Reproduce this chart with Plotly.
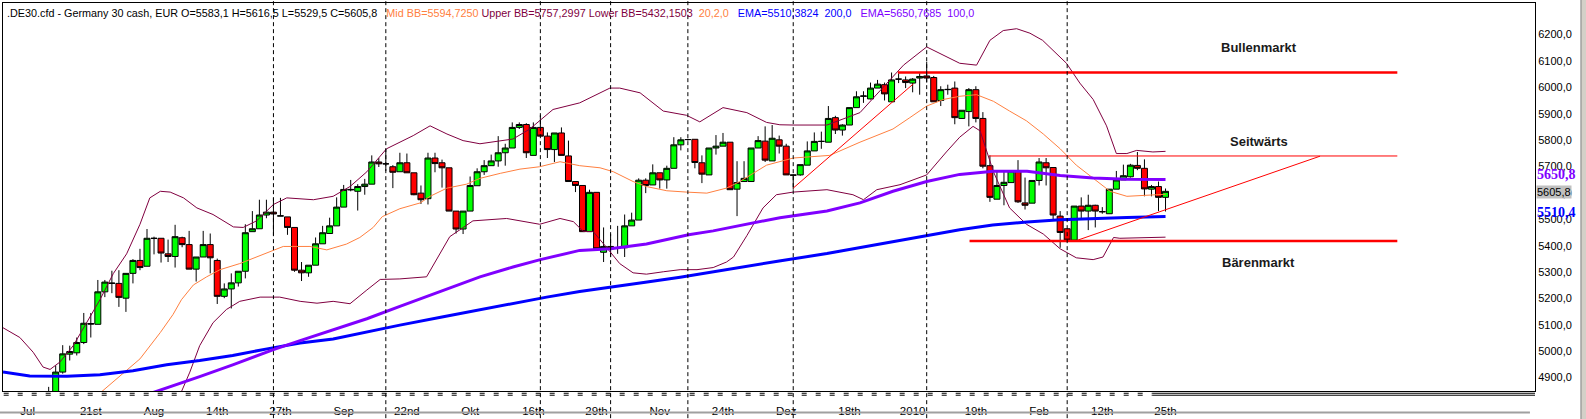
import plotly.graph_objects as go

# ---------------- data (candle index 0 = first visible candle, 158 = 25 Feb 2010) ----------------
idx = list(range(-1, 159))

opens = [4790,
 4800, 4921, 4989, 4994, 5033, 5105, 5102, 5225, 5257, 5257,
 5201, 5295, 5344, 5322, 5427, 5428, 5369, 5359, 5430, 5404,
 5311, 5357, 5404, 5344, 5208, 5236, 5259, 5303, 5453, 5464,
 5516, 5527, 5512, 5509, 5469, 5307, 5297, 5326, 5407, 5446,
 5475, 5546, 5611, 5606, 5624, 5633, 5717, 5710, 5699, 5680,
 5714, 5676, 5599, 5578, 5732, 5714, 5695, 5531, 5463, 5531,
 5627, 5680, 5703, 5721, 5752, 5770, 5848, 5859, 5742, 5848,
 5815, 5764, 5827, 5740, 5643, 5628, 5453, 5602, 5375, 5397,
 5392, 5392, 5475, 5497, 5648, 5630, 5676, 5649, 5693, 5782,
 5802, 5803, 5714, 5668, 5770, 5777, 5792, 5614, 5643, 5643,
 5770, 5796, 5721, 5801, 5777, 5668, 5668, 5705, 5759, 5795,
 5792, 5885, 5838, 5857, 5923, 5966, 5956, 5997, 6010, 5945,
 6031, 6028, 6016, 6035, 6043, 6037, 5950, 5991, 5997, 5882,
 5908, 5991, 5882, 5703, 5576, 5628, 5639, 5683, 5562, 5561,
 5647, 5714, 5696, 5512, 5464, 5421, 5550, 5531, 5553, 5528,
 5521, 5614, 5649, 5661, 5704, 5693, 5614, 5624, 5583.1]

highs = [4865,
 4946, 5023, 5021, 5052, 5145, 5145, 5270, 5270, 5305, 5307,
 5295, 5349, 5388, 5463, 5434, 5428, 5423, 5479, 5434, 5456,
 5357, 5456, 5446, 5351, 5257, 5295, 5303, 5481, 5531, 5574,
 5574, 5581, 5581, 5509, 5469, 5338, 5326, 5431, 5475, 5506,
 5583, 5630, 5649, 5633, 5653, 5742, 5732, 5767, 5705, 5752,
 5749, 5676, 5628, 5752, 5752, 5726, 5695, 5531, 5531, 5662,
 5693, 5724, 5745, 5815, 5786, 5867, 5867, 5864, 5867, 5894,
 5829, 5827, 5848, 5798, 5643, 5628, 5612, 5602, 5469, 5444,
 5475, 5518, 5525, 5655, 5655, 5708, 5676, 5703, 5811, 5811,
 5805, 5803, 5742, 5770, 5819, 5827, 5792, 5720, 5720, 5770,
 5815, 5852, 5857, 5817, 5786, 5670, 5707, 5795, 5829, 5832,
 5929, 5892, 5860, 5923, 5985, 5985, 6018, 6028, 6018, 6056,
 6053, 6041, 6035, 6053, 6097, 6043, 6004, 6010, 6022, 5913,
 5997, 6004, 5906, 5742, 5683, 5686, 5683, 5724, 5658, 5647,
 5732, 5732, 5696, 5531, 5464, 5550, 5583, 5593, 5555, 5546,
 5614, 5683, 5707, 5710, 5755, 5727, 5630, 5643, 5616.5]

lows = [4760,
 4790, 4915, 4965, 4984, 5027, 5052, 5102, 5205, 5220, 5168,
 5149, 5257, 5307, 5322, 5367, 5336, 5338, 5317, 5394, 5311,
 5264, 5357, 5295, 5179, 5201, 5162, 5245, 5276, 5453, 5464,
 5504, 5438, 5512, 5441, 5301, 5266, 5282, 5326, 5407, 5446,
 5475, 5546, 5606, 5533, 5593, 5633, 5698, 5683, 5618, 5680,
 5676, 5591, 5558, 5556, 5678, 5620, 5531, 5446, 5444, 5531,
 5627, 5668, 5703, 5699, 5703, 5770, 5842, 5732, 5742, 5815,
 5732, 5717, 5742, 5643, 5603, 5453, 5453, 5382, 5338, 5357,
 5369, 5357, 5475, 5497, 5599, 5630, 5616, 5616, 5693, 5761,
 5798, 5693, 5637, 5668, 5745, 5777, 5612, 5512, 5643, 5643,
 5770, 5717, 5721, 5749, 5668, 5612, 5665, 5705, 5759, 5767,
 5792, 5823, 5817, 5857, 5923, 5941, 5954, 5997, 5950, 5945,
 6016, 5997, 5981, 5972, 6018, 5945, 5929, 5972, 5860, 5880,
 5852, 5867, 5693, 5566, 5576, 5553, 5639, 5562, 5537, 5561,
 5628, 5628, 5500, 5392, 5419, 5419, 5500, 5459, 5469, 5521,
 5521, 5614, 5649, 5658, 5686, 5587, 5587, 5531, 5529.5]

closes = [4835,
 4921, 4990, 4999, 5033, 5106, 5103, 5225, 5262, 5258, 5204,
 5295, 5344, 5317, 5428, 5428, 5372, 5359, 5434, 5404, 5311,
 5357, 5404, 5354, 5208, 5236, 5259, 5303, 5449, 5464, 5516,
 5527, 5520, 5513, 5469, 5307, 5297, 5326, 5407, 5449, 5475,
 5546, 5613, 5613, 5624, 5633, 5717, 5710, 5710, 5678, 5714,
 5676, 5593, 5574, 5732, 5711, 5695, 5531, 5463, 5531, 5628,
 5680, 5703, 5721, 5752, 5770, 5848, 5859, 5752, 5848, 5815,
 5764, 5827, 5742, 5643, 5628, 5453, 5602, 5388, 5397, 5388,
 5392, 5475, 5497, 5648, 5628, 5676, 5649, 5693, 5782, 5801,
 5802, 5715, 5671, 5770, 5777, 5792, 5612, 5639, 5655, 5770,
 5798, 5724, 5807, 5777, 5668, 5667, 5707, 5759, 5795, 5795,
 5882, 5838, 5857, 5923, 5964, 5967, 5997, 6012, 5975, 6028,
 6031, 6018, 6031, 6041, 6035, 5945, 5991, 5992, 5885, 5913,
 5991, 5882, 5701, 5583, 5628, 5640, 5683, 5566, 5553, 5647,
 5717, 5695, 5516, 5450, 5421, 5550, 5531, 5553, 5531, 5529,
 5614, 5649, 5665, 5705, 5693, 5615, 5624, 5583, 5605.8]

# indicator lines (x = candle index, y = price)
ema200_k = [-7.5, -3.7, 1.6, 6.3, 11.0, 15.8, 20.5, 25.2, 30.1, 34.8, 39.5, 44.3, 49.0, 55.0, 62.3,
            69.9, 74.6, 79.3, 84.2, 88.9, 93.6, 98.4, 103.0, 109.8, 114.5, 119.2, 124.0, 128.7,
            133.4, 138.3, 143.0, 147.7, 152.5, 158.0]
ema200_v = [4921, 4906, 4905, 4911, 4926, 4949, 4965, 4984, 5009, 5031, 5046, 5073, 5099, 5130, 5168,
            5205, 5226, 5245, 5262, 5280, 5301, 5324, 5342, 5370, 5392, 5415, 5438, 5460,
            5478, 5490, 5498, 5503, 5507, 5510.4]

ema100_k = [8.0, 14.4, 20.5, 25.3, 31.0, 34.8, 39.5, 44.3, 49.0, 55.7, 60.4, 65.1, 69.0, 74.6, 79.0,
            84.1, 90.1, 93.6, 98.4, 103.1, 109.8, 114.5, 119.2, 124.0, 128.7, 133.5, 138.3, 143.0,
            147.7, 152.5, 158.0]
ema100_v = [4790, 4847, 4904, 4949, 5006, 5040, 5081, 5123, 5170, 5236, 5282, 5319, 5347, 5382, 5388,
            5406, 5441, 5456, 5481, 5506, 5531, 5562, 5606, 5643, 5670, 5682, 5682, 5666,
            5656, 5652, 5650.8]

midbb_k = [3.0, 6.6, 12.0, 14.9, 16.7, 17.9, 19.6, 21.5, 23.4, 26.2, 29.1, 31.0, 32.4, 36.2, 38.6,
           41.4, 43.3, 45.2, 46.5, 49.0, 51.9, 53.3, 55.7, 58.5, 60.4, 63.3, 66.1, 68.9, 71.8, 74.6,
           77.5, 79.4, 82.2, 84.1, 87.0, 89.8, 92.7, 95.5, 97.4, 99.3, 101.2, 105.0, 110.2, 114.5,
           119.2, 121.6, 124.0, 126.4, 128.7, 131.1, 133.5, 135.8, 138.2, 140.6, 143.0, 145.3,
           147.7, 150.1, 152.5, 154.8, 158.0]
midbb_v = [4766, 4847, 4971, 5071, 5139, 5195, 5251, 5282, 5309, 5332, 5363, 5384, 5397, 5397, 5384,
           5406, 5431, 5469, 5510, 5540, 5562, 5587, 5618, 5633, 5655, 5674, 5690, 5699, 5718, 5703,
           5695, 5680, 5643, 5624, 5608, 5603, 5599, 5618, 5643, 5674, 5705, 5732, 5742, 5792,
           5842, 5885, 5929, 5954, 5966, 5972, 5947, 5910, 5873, 5823, 5767, 5705,
           5655, 5606, 5587, 5591, 5594.7]

upbb_k = [-7.5, -5.1, -3.2, -1.8, -0.8, 0.6, 2.5, 4.4, 6.3, 8.2, 10.1, 12.0, 13.4, 14.9, 16.3, 18.2,
          20.1, 22.4, 25.3, 26.7, 28.6, 31.0, 32.9, 36.7, 39.5, 41.9, 44.3, 47.1, 49.0, 50.9, 53.3,
          55.7, 58.0, 60.4, 65.1, 67.5, 70.8, 74.6, 78.9, 80.3, 83.2, 86.5, 89.8, 91.7, 95.0, 98.4,
          101.2, 103.1, 105.0, 109.8, 114.5, 118.3, 120.7, 124.0, 125.9, 128.7, 131.1, 133.0, 134.9,
          136.8, 138.7, 140.5, 143.9, 145.8, 147.7, 149.6, 151.0, 152.5, 153.9, 156.2, 158.0]
upbb_v = [5089, 5052, 4996, 4940, 4931, 4959, 5021, 5108, 5195, 5294, 5369, 5481, 5581, 5606, 5603, 5581,
          5543, 5518, 5471, 5469, 5494, 5556, 5581, 5574, 5587, 5624, 5680, 5767, 5792, 5817, 5854,
          5823, 5798, 5786, 5804, 5842, 5916, 5941, 5997, 5997, 5979, 5910, 5894, 5869, 5923, 5904,
          5867, 5858, 5857, 5857, 5904, 6016, 6084, 6153, 6128, 6091, 6084, 6178, 6215,
          6222, 6205, 6178, 6091, 6016, 5954, 5854, 5749, 5749, 5761, 5755, 5757.3]

lowbb_k = [16.5, 17.9, 19.1, 20.5, 22.4, 24.3, 26.2, 29.1, 31.9, 34.8, 37.2, 39.5, 41.9, 44.3, 46.2,
           49.0, 52.8, 56.1, 59.4, 64.2, 68.9, 71.8, 73.7, 75.1, 76.5, 78.4, 80.3, 82.2, 84.1, 86.5,
           88.9, 91.3, 93.6, 95.5, 96.5, 98.4, 100.7, 102.6, 105.0, 109.8, 113.5, 115.0, 116.9,
           120.2, 124.0, 126.8, 128.7, 130.6, 131.6, 133.5, 135.8, 138.2, 140.6, 143.0, 145.3,
           147.7, 149.1, 150.6, 151.5, 158.0]
lowbb_v = [4760, 4847, 4921, 5021, 5108, 5158, 5189, 5205, 5205, 5189, 5182, 5189, 5180, 5232, 5272,
           5274, 5282, 5434, 5494, 5503, 5481, 5503, 5491, 5454, 5454, 5394, 5332, 5297, 5292, 5301,
           5309, 5309, 5317, 5338, 5357, 5438, 5543, 5593, 5603, 5612, 5593, 5574, 5612,
           5631, 5668, 5755, 5811, 5852, 5835, 5680, 5543, 5481, 5444, 5388, 5354,
           5347, 5357, 5431, 5428, 5432.2]

# hand-drawn lines
trend_up_k = [105.0, 122.1]
trend_up_v = [5618, 6013]
bull_k = [119.9, 191.0]
bull_v = [6055.7, 6055.7]
side_k = [132.9, 191.0]
side_v = [5739.8, 5739.8]
bear_k = [130.1, 191.0]
bear_v = [5417.6, 5417.6]
rise_k = [145.3, 180.0]
rise_v = [5419, 5739]

vlines_k = [31, 47, 69, 79, 90, 105, 124, 144]

zone_labels = ['Bullenmarkt', 'Seitwärts', 'Bärenmarkt']
zone_k = [171.3, 171.3, 171.3]
zone_v = [6152, 5794, 5335]

tick_k = [-4, 5, 14, 23, 32, 41, 50, 59, 68, 77, 86, 95, 104, 113, 122, 131, 140, 149, 158]
tick_labels = ['Jul', '21st', 'Aug', '14th', '27th', 'Sep', '22nd', 'Okt', '16th', '29th', 'Nov',
               '24th', 'Dez', '18th', '2010', '19th', 'Feb', '12th', '25th']

price_ticks = [4900, 5000, 5100, 5200, 5300, 5400, 5500, 5600, 5700, 5800, 5900, 6000, 6100, 6200]
price_labels = ['4900,0', '5000,0', '5100,0', '5200,0', '5300,0', '5400,0', '5500,0', '5600,0',
                '5700,0', '5800,0', '5900,0', '6000,0', '6100,0', '6200,0']

last_marks_v = [5650.8, 5605.8, 5510.4]
last_marks_t = ['5650,8', '5605,8', '5510,4']

# ---------------- colours ----------------
C_ORANGE = '#ff8040'
C_MAROON = '#800040'
C_BLUE = '#0000ff'
C_PURPLE = '#8000ff'
C_RED = '#ff0000'
NB = '\u00a0'

fig = go.Figure()

def line(xs, ys, color, width):
    fig.add_trace(go.Scatter(x=xs, y=ys, mode='lines', line=dict(color=color, width=width),
                             hoverinfo='skip', showlegend=False))

line(upbb_k, upbb_v, C_MAROON, 1)
line(lowbb_k, lowbb_v, C_MAROON, 1)
line(midbb_k, midbb_v, C_ORANGE, 1)
line(ema200_k, ema200_v, C_BLUE, 3)
line(ema100_k, ema100_v, C_PURPLE, 3)

fig.add_trace(go.Candlestick(
    x=idx, open=opens, high=highs, low=lows, close=closes,
    increasing=dict(fillcolor='#00ff00', line=dict(color='black', width=1)),
    decreasing=dict(fillcolor='#ff0000', line=dict(color='black', width=1)),
    whiskerwidth=0, showlegend=False, hoverinfo='skip'))

line(trend_up_k, trend_up_v, C_RED, 1)
line(bull_k, bull_v, C_RED, 2.5)
line(side_k, side_v, C_RED, 1)
line(bear_k, bear_v, C_RED, 2.5)
line(rise_k, rise_v, C_RED, 1)

shapes = []
for k in vlines_k:
    shapes.append(dict(type='line', xref='x', yref='paper', x0=k, x1=k, y0=-0.07, y1=1.01,
                       line=dict(color='black', width=1, dash='4px,3px')))
# double line under the time axis: dashed over the data, solid afterwards
for yy in [-0.0058, -0.0109]:
    shapes.append(dict(type='line', xref='x', yref='paper', x0=-7.4, x1=156.1, y0=yy, y1=yy,
                       line=dict(color='black', width=1, dash='5px,9px')))
    shapes.append(dict(type='line', xref='x', yref='paper', x0=156.1, x1=210.6, y0=yy, y1=yy,
                       line=dict(color='black', width=1)))
# window frame bits
shapes.append(dict(type='line', xref='paper', yref='paper', x0=-0.002, x1=0.9967, y0=-0.0551, y1=-0.0551,
                   line=dict(color='#a0a0a0', width=2)))
shapes.append(dict(type='rect', xref='paper', yref='paper', x0=1.030, x1=1.06, y0=-0.1, y1=1.02,
                   fillcolor='#d4d0c8', line=dict(color='#808080', width=1)))

header = ('.DE30.cfd - Germany 30 cash, EUR O=5583,1 H=5616,5 L=5529,5 C=5605,8' + NB * 3 +
          f'<span style="color:{C_ORANGE}">Mid BB=5594,7250</span> ' +
          f'<span style="color:{C_MAROON}">Upper BB=5757,2997 Lower BB=5432,1503</span>' + NB * 2 +
          f'<span style="color:{C_ORANGE}">20,2,0</span>' + NB * 3 +
          f'<span style="color:{C_BLUE}">EMA=5510,3824{NB*2}200,0</span>' + NB * 3 +
          f'<span style="color:{C_PURPLE}">EMA=5650,7685{NB*2}100,0</span>')

annotations = [dict(xref='paper', yref='paper', x=0, y=1, xanchor='left', yanchor='top',
                    xshift=2, yshift=-2, text=header, showarrow=False,
                    font=dict(family='Liberation Sans, Arial, sans-serif', size=10.8, color='black'))]

for t, k, v in zip(zone_labels, zone_k, zone_v):
    annotations.append(dict(xref='x', yref='y', x=k, y=v, text=f'<b>{t}</b>', showarrow=False,
                            xanchor='center', yanchor='middle',
                            font=dict(family='Liberation Sans, Arial, sans-serif', size=13, color='#1a1a1a')))

mark_styles = [
    dict(font=dict(family='Liberation Serif, Times New Roman, serif', size=14, color=C_PURPLE), bold=True, shift=5, bg=None),
    dict(font=dict(family='Liberation Sans, Arial, sans-serif', size=11, color='black'), bold=False, shift=-1, bg='#c0c0c0'),
    dict(font=dict(family='Liberation Serif, Times New Roman, serif', size=14, color=C_BLUE), bold=True, shift=4, bg=None),
]
for v, t, st in zip(last_marks_v, last_marks_t, mark_styles):
    a = dict(xref='paper', yref='y', x=1, y=v, xanchor='left', yanchor='middle', xshift=1,
             yshift=st['shift'], text=(f'<b>{t}</b>' if st['bold'] else t), showarrow=False,
             font=st['font'], borderpad=0)
    if st['bg']:
        a['bgcolor'] = st['bg']
    annotations.append(a)

fig.update_layout(
    width=1586, height=419,
    margin=dict(l=3, r=51, t=2, b=23),
    paper_bgcolor='white', plot_bgcolor='white',
    showlegend=False, boxgap=0.15, boxgroupgap=0,
    font=dict(family='Liberation Sans, Arial, sans-serif', size=11, color='black'),
    shapes=shapes, annotations=annotations,
)
fig.update_xaxes(range=[-7.5, 210.6], tickmode='array', tickvals=tick_k, ticktext=tick_labels,
                 showgrid=False, zeroline=False, showline=True, mirror=True, linecolor='black',
                 linewidth=1, ticks='outside', ticklen=9, tickcolor='rgba(0,0,0,0)',
                 tickfont=dict(size=11.5), rangeslider=dict(visible=False), fixedrange=True)
fig.update_yaxes(side='right', range=[4849.3, 6319.4], tickmode='array', tickvals=price_ticks,
                 ticktext=price_labels, showgrid=False, zeroline=False, showline=True, mirror=True,
                 linecolor='black', linewidth=1, ticks='', tickfont=dict(size=11), fixedrange=True)

fig.write_html('out.html', config={'displayModeBar': False},
               post_script="document.body.style.margin='0';document.body.style.overflow='hidden';")
